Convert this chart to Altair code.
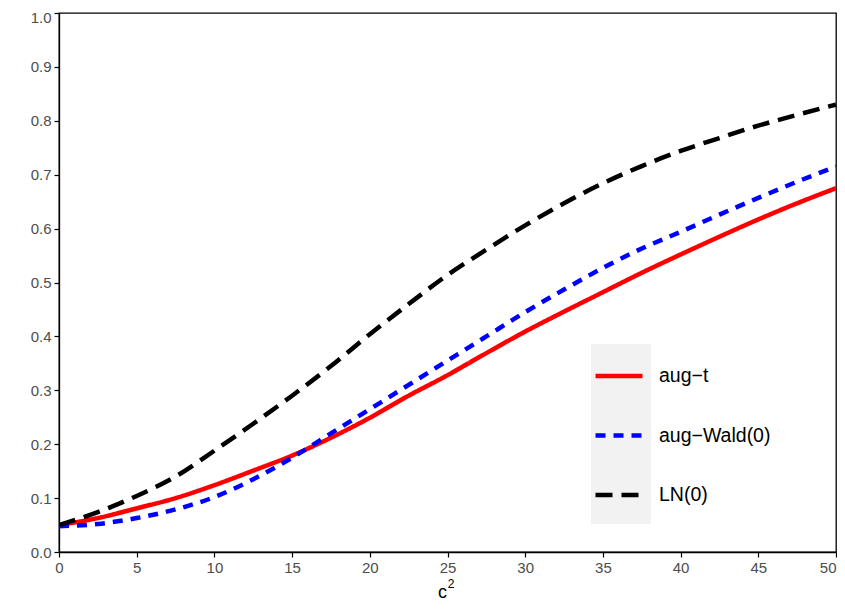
import altair as alt
import pandas as pd

c2 = [0, 2.5, 5, 7.5, 10, 12.5, 15, 17.5, 20, 22.5, 25, 27.5, 30, 32.5, 35, 37.5, 40, 42.5, 45, 47.5, 50]
aug_t = [0.050, 0.063, 0.081, 0.100, 0.124, 0.151, 0.179, 0.212, 0.249, 0.290, 0.328, 0.369, 0.409, 0.446, 0.482, 0.518, 0.552, 0.585, 0.617, 0.647, 0.675]
aug_wald = [0.048, 0.052, 0.063, 0.079, 0.102, 0.135, 0.175, 0.220, 0.265, 0.310, 0.355, 0.400, 0.445, 0.487, 0.527, 0.563, 0.594, 0.626, 0.657, 0.687, 0.715]
ln0 = [0.050, 0.074, 0.104, 0.140, 0.188, 0.238, 0.290, 0.345, 0.404, 0.460, 0.514, 0.561, 0.606, 0.647, 0.684, 0.716, 0.744, 0.768, 0.791, 0.811, 0.830]

series_names = ["aug\u2212t", "aug\u2212Wald(0)", "LN(0)"]
series_values = [aug_t, aug_wald, ln0]
series_colors = ["#FF0000", "#0000FF", "#000000"]
series_dash = [[1, 0], [10, 8], [17, 9]]

x_ticks = [0, 5, 10, 15, 20, 25, 30, 35, 40, 45, 50]
y_ticks = [0.0, 0.1, 0.2, 0.3, 0.4, 0.5, 0.6, 0.7, 0.8, 0.9, 1.0]

rows = []
for name, vals in zip(series_names, series_values):
    for x, v in zip(c2, vals):
        rows.append({"c2": x, "value": v, "series": name})
df = pd.DataFrame(rows)

FONT = "Liberation Sans"

key_bg = alt.Chart(pd.DataFrame({"k": [0]})).mark_rect(color="#F2F2F2").encode(
    x=alt.value(532), x2=alt.value(592), y=alt.value(331), y2=alt.value(511)
)

superscript = alt.Chart(pd.DataFrame({"t": ["2"]})).mark_text(
    font=FONT, fontSize=12, color="black", align="center", baseline="middle"
).encode(text="t:N", x=alt.value(392), y=alt.value(571))

lines = alt.Chart(df).mark_line(strokeWidth=4.5, interpolate="monotone", clip=True).encode(
    x=alt.X("c2:Q", title="c",
            scale=alt.Scale(domain=[0, 50], nice=False, zero=False),
            axis=alt.Axis(values=x_ticks, format="d", titleX=383, titleAlign="center",
                          labelAlign={"condition": {"test": "datum.value == 50", "value": "right"},
                                      "value": "center"})),
    y=alt.Y("value:Q", title=None,
            scale=alt.Scale(domain=[0, 1], nice=False),
            axis=alt.Axis(values=y_ticks, format=".1f",
                          labelOffset={"condition": {"test": "datum.value == 1", "value": 4},
                                       "value": 0})),
    color=alt.Color("series:N", sort=series_names,
                    scale=alt.Scale(domain=series_names, range=series_colors),
                    legend=alt.Legend(title=None, orient="none", legendX=534, legendY=337,
                                      symbolType="stroke", symbolSize=2209,
                                      symbolStrokeWidth=4.5, rowPadding=23.5,
                                      labelFontSize=19.5, labelColor="black", labelFont=FONT,
                                      labelOffset=14, padding=0)),
    strokeDash=alt.StrokeDash("series:N", sort=series_names,
                              scale=alt.Scale(domain=series_names, range=series_dash),
                              legend=None),
    detail="series:N",
)

chart = alt.layer(key_bg, lines, superscript).properties(
    width=777, height=539,
    autosize=alt.AutoSizeParams(type="none"),
    padding={"left": 51, "top": 5, "right": 1, "bottom": 50},
).configure_view(
    stroke="black", strokeWidth=1.3
).configure_axis(
    grid=False, domain=True, domainColor="black", domainWidth=1.3,
    tickColor="black", tickSize=5, tickWidth=1.2,
    labelColor="#4D4D4D", labelFontSize=15, labelFont=FONT, labelPadding=3,
    titleFont=FONT, titleFontSize=18, titleColor="black", titleFontWeight="normal",
    titlePadding=8
)

chart.save("out.html", embed_options={"renderer": "svg", "actions": False})
